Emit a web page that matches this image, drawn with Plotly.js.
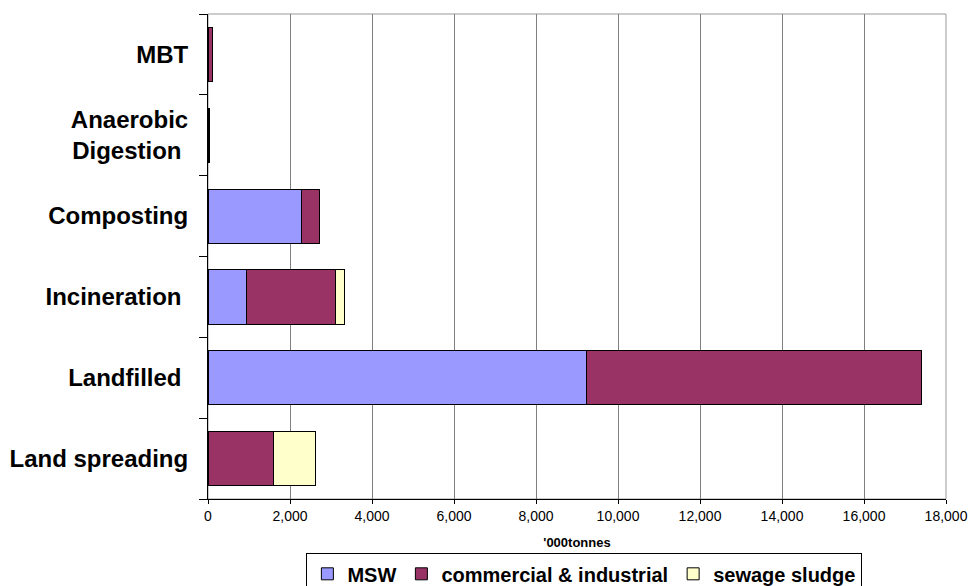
<!DOCTYPE html>
<html>
<head>
<meta charset="utf-8">
<script src="https://cdn.plot.ly/plotly-3.0.1.min.js"></script>
<style>
  html, body { margin: 0; padding: 0; background: #ffffff; }
  #chart { width: 968px; height: 586px; }
</style>
</head>
<body>
<div id="chart"></div>
<script>
// Waste treatment routes, bottom to top
const categories = [
  'Land spreading',
  'Landfilled ',
  'Incineration ',
  'Composting',
  'Anaerobic<br>Digestion ',
  'MBT'
];

// '000 tonnes per waste stream (null = no tonnage on that route)
const mswValues        = [null, 9240, 945,  2280, null, null];
const commercialValues = [1600, 8160, 2155, 430,  40,   120];
const sewageValues     = [1020, null, 235,  null, null, null];

const seriesNames  = ['MSW', 'commercial & industrial', 'sewage sludge'];
const seriesColors = ['#9999FF', '#993366', '#FFFFCC'];
const seriesValues = [mswValues, commercialValues, sewageValues];

const traces = seriesValues.map((vals, i) => ({
  type: 'bar',
  orientation: 'h',
  name: seriesNames[i],
  y: categories,
  x: vals,
  marker: { color: seriesColors[i], line: { color: '#000000', width: 1 } },
  hoverinfo: 'x+name'
}));

const layout = {
  width: 968,
  height: 586,
  margin: { l: 208, r: 22, t: 14, b: 87, autoexpand: false },
  paper_bgcolor: '#ffffff',
  plot_bgcolor: '#ffffff',
  barmode: 'stack',
  bargap: 0.33,
  font: { family: 'Liberation Sans, Arial, sans-serif', color: '#000000' },
  xaxis: {
    range: [0, 18000],
    dtick: 2000,
    tick0: 0,
    tickformat: ',d',
    showgrid: true,
    gridcolor: '#808080',
    gridwidth: 1,
    zeroline: false,
    showline: true,
    linecolor: '#000000',
    linewidth: 1,
    ticks: 'outside',
    ticklen: 4,
    tickcolor: '#000000',
    tickfont: { size: 14, color: '#000000' },
    title: {
      text: "'000tonnes",
      font: { size: 13, color: '#000000', weight: 'bold' },
      standoff: 15
    },
    automargin: false,
    fixedrange: true
  },
  yaxis: {
    type: 'category',
    showgrid: false,
    zeroline: false,
    showline: true,
    linecolor: '#000000',
    linewidth: 1,
    ticks: 'outside',
    tickson: 'boundaries',
    ticklen: 8,
    tickcolor: '#000000',
    ticklabelstandoff: 14,
    tickfont: { size: 24, color: '#000000', weight: 'bold' },
    automargin: false,
    fixedrange: true
  },
  shapes: [{
    type: 'rect', xref: 'paper', yref: 'paper',
    x0: 0, x1: 1, y0: 0, y1: 1,
    line: { color: '#999999', width: 1 },
    layer: 'below'
  }],
  legend: {
    orientation: 'h',
    x: 0.51, xanchor: 'center',
    y: -0.112, yanchor: 'top',
    bordercolor: '#000000',
    borderwidth: 1,
    font: { size: 20, color: '#000000', weight: 'bold' },
    itemwidth: 30,
    tracegroupgap: 0,
    traceorder: 'normal'
  },
  showlegend: true
};

Plotly.newPlot('chart', traces, layout, { displayModeBar: false, staticPlot: true });
</script>
</body>
</html>
